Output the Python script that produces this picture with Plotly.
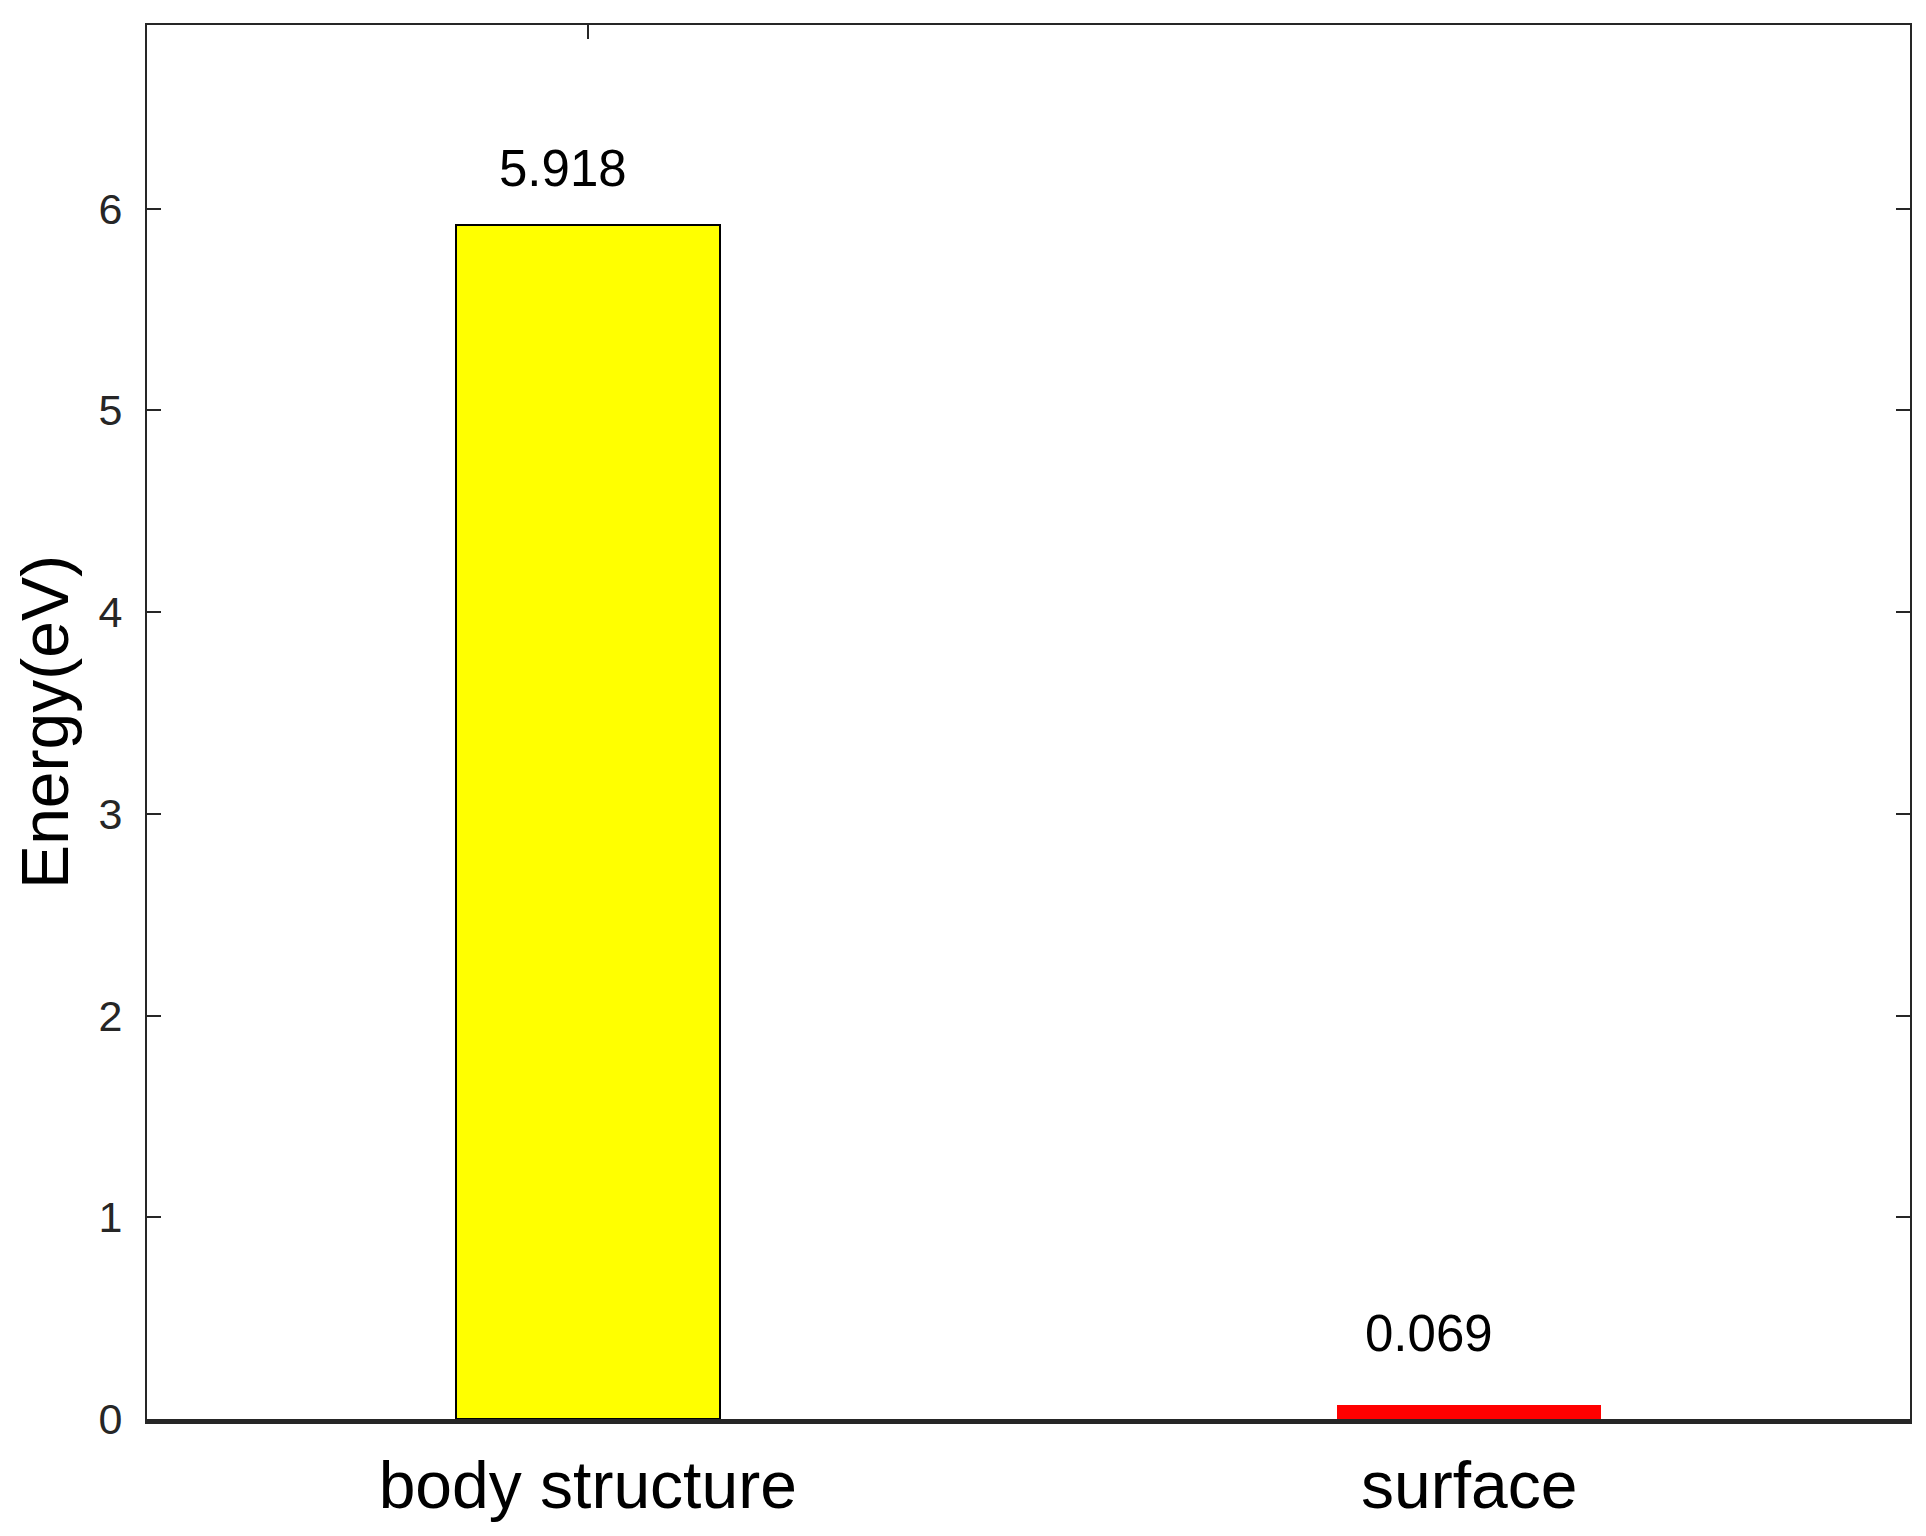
import plotly.graph_objects as go

# data
categories = ["body structure", "surface"]
energies = [5.918, 0.069]
value_labels = ["5.918", "0.069"]
y_ticks = [0, 1, 2, 3, 4, 5, 6]

bar_colors = ["#FFFF00", "#FF0000"]
bar_edge = [2, 0]
# label offsets in px (matlab text() placement)
label_dx = [-25, -40]
label_dy = [57, 72]

FONT = "Liberation Sans, Arial, sans-serif"
AX = "#262626"

fig = go.Figure()
fig.add_trace(go.Bar(x=categories, y=energies, width=0.3,
                     marker=dict(color=bar_colors,
                                 line=dict(color="black", width=bar_edge)),
                     showlegend=False, hoverinfo="x+y"))

for i in range(len(categories)):
    fig.add_annotation(x=categories[i], y=energies[i], text=value_labels[i],
                       showarrow=False, xanchor="center", yanchor="middle",
                       xshift=label_dx[i], yshift=label_dy[i],
                       font=dict(family=FONT, size=51, color="black"))

fig.update_layout(
    width=1926, height=1536,
    margin=dict(l=139, r=24, t=17, b=125),
    paper_bgcolor="white", plot_bgcolor="white",
    font=dict(family=FONT, color=AX),
    bargap=0,
    xaxis=dict(type="category", categoryorder="array", categoryarray=categories,
               range=[-0.5, 1.5], showline=True, linewidth=5, linecolor=AX,
               ticks="", showgrid=False, zeroline=False,
               tickfont=dict(size=66, color="black"), ticklabelstandoff=5),
    xaxis2=dict(type="category", categoryorder="array", categoryarray=categories,
                range=[-0.5, 1.5], overlaying="x", side="top",
                showline=True, linewidth=2, linecolor=AX,
                tickmode="array", tickvals=[categories[0]],
                ticks="inside", ticklen=14, tickwidth=2, tickcolor=AX,
                showticklabels=False, showgrid=False, zeroline=False),
    yaxis=dict(range=[0, 6.91], tickvals=y_ticks, showline=True, linewidth=2,
               linecolor=AX, mirror="ticks", ticks="inside", ticklen=14,
               tickwidth=2, tickcolor=AX, showgrid=False, zeroline=False,
               tickfont=dict(size=43, color=AX), ticklabelstandoff=14,
               title=dict(text="Energy(eV)", font=dict(size=66, color="black"),
                          standoff=18)),
)
# empty trace so the top axis gets drawn
fig.add_trace(go.Scatter(x=[categories[0]], y=[None], xaxis="x2",
                         showlegend=False, hoverinfo="skip"))

fig.write_html("out.html")
